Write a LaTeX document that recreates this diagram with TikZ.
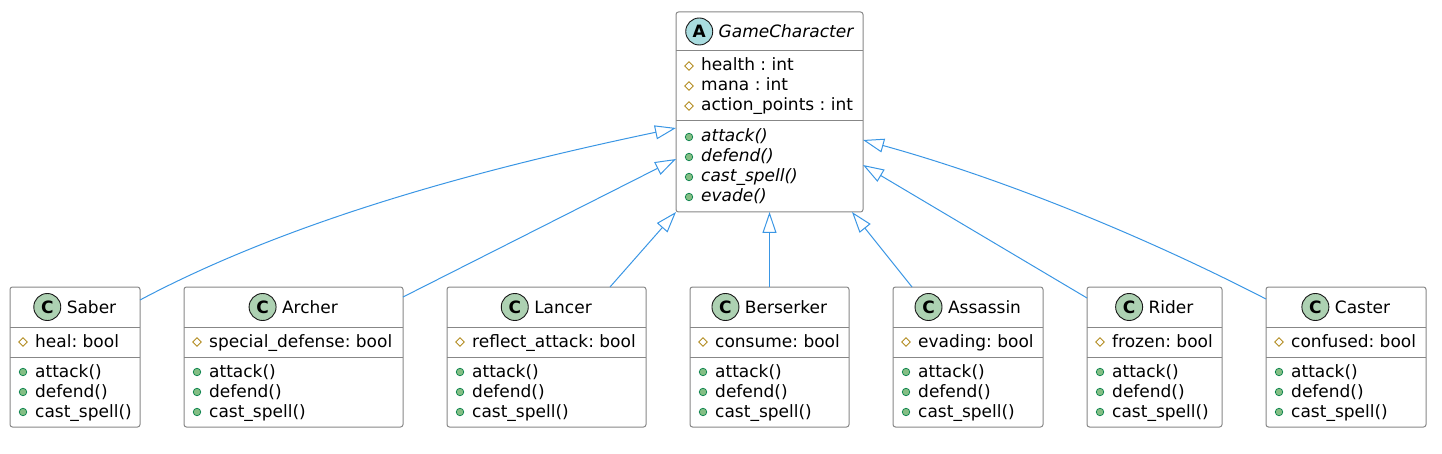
\documentclass[tikz,border=0pt]{standalone}
\usepackage{fontspec}
\setmainfont{DejaVu Sans}
\usetikzlibrary{positioning, arrows.meta, shapes.geometric}
\definecolor{linkBlue}{RGB}{58,150,228}
\definecolor{boxGray}{RGB}{135,135,135}
\definecolor{classFill}{HTML}{ADD1B2}
\definecolor{abstractFill}{HTML}{A9DCDF}
\definecolor{protGold}{HTML}{B38D22}
\definecolor{pubFill}{HTML}{84BE84}
\definecolor{pubLine}{HTML}{038048}
\frenchspacing

\begin{document}
\begin{tikzpicture}[
      x=1pt, y=-1pt,
      umlbox/.style={rectangle, draw=boxGray, line width=1pt, rounded corners=2.5pt, fill=white, inner sep=0pt, outer sep=0pt, anchor=north west},
      divider/.style={draw=boxGray, line width=1pt},
      title/.style={inner sep=0pt, outer sep=0pt, font=\fontsize{17}{20}\selectfont},
      icon/.style={circle, draw=black!90, line width=0.9pt, minimum size=27pt, inner sep=0pt, outer sep=0pt, font=\fontsize{17}{17}\selectfont\bfseries},
      member/.style={inner sep=0pt, anchor=base west, font=\fontsize{17}{20}\selectfont},
      prot/.style={diamond, aspect=1, draw=protGold, line width=0.9pt, minimum size=9pt, inner sep=0pt},
      pub/.style={circle, draw=pubLine, fill=pubFill, line width=0.7pt, minimum size=7.5pt, inner sep=0pt},
      inherit/.style={draw=linkBlue, line width=1pt, -{Triangle[open, length=21pt, width=14pt]}}
    ]
      \useasboundingbox (0,0) rectangle (1442,454);

      % abstract base class
      \node[umlbox, minimum width=187, minimum height=200] (gc) at (676,12) {};
      \draw[divider] ([yshift=-39pt]gc.north west) -- ([yshift=-39pt]gc.north east);
      \draw[divider] ([yshift=-109pt]gc.north west) -- ([yshift=-109pt]gc.north east);
      \node[title, font={\fontsize{17}{20}\selectfont\itshape}] (gc-t) at ([xshift=16.5pt, yshift=-19.5pt]gc.north) {GameCharacter};
      \node[icon, fill=abstractFill, left=6pt of gc-t] (gc-i) {A};
      \foreach \a/\dy in {health : int/54, mana : int/74, action\_points : int/94} {
        \node[prot] at ([xshift=13pt, yshift=-\dy pt]gc.north west) {};
        \node[member] at ([xshift=25pt, yshift=-\dy pt-5pt]gc.north west) {\a};
      }
      \foreach \m/\dy in {attack()/125, defend()/145, cast\_spell()/165, evade()/185} {
        \node[pub] at ([xshift=13pt, yshift=-\dy pt]gc.north west) {};
        \node[member, font={\fontsize{17}{20}\selectfont\itshape}] at ([xshift=25pt, yshift=-\dy pt-5pt]gc.north west) {\m};
      }

      % concrete subclasses
      \foreach \cls/\name/\xl/\w/\attr in {
          saber/Saber/10/130/heal: bool,
          archer/Archer/184/219/special\_defense: bool,
          lancer/Lancer/447/199/reflect\_attack: bool,
          berserker/Berserker/690/159/consume: bool,
          assassin/Assassin/893/150/evading: bool,
          rider/Rider/1087/135/frozen: bool,
          caster/Caster/1266/160/confused: bool} {
        \node[umlbox, minimum width=\w, minimum height=140] (\cls) at (\xl,287) {};
        \draw[divider] ([yshift=-40pt]\cls.north west) -- ([yshift=-40pt]\cls.north east);
        \draw[divider] ([yshift=-70pt]\cls.north west) -- ([yshift=-70pt]\cls.north east);
        \node[title] (\cls-t) at ([xshift=16.5pt, yshift=-20pt]\cls.north) {\name};
        \node[icon, fill=classFill, left=6pt of \cls-t] (\cls-i) {C};
        \node[prot] at ([xshift=13pt, yshift=-55pt]\cls.north west) {};
        \node[member] at ([xshift=25pt, yshift=-60pt]\cls.north west) {\attr};
        \foreach \m/\dy in {attack()/85, defend()/105, cast\_spell()/125} {
          \node[pub] at ([xshift=13pt, yshift=-\dy pt]\cls.north west) {};
          \node[member] at ([xshift=25pt, yshift=-\dy pt-5pt]\cls.north west) {\m};
        }
      }

      % generalisation arrows
      \draw[inherit] ([yshift=-13pt]saber.north east) .. controls +(160,-85) and +(-176,37) .. ([yshift=-116pt]gc.north west);
      \draw[inherit] ([yshift=-10pt]archer.north east) -- ([yshift=-147pt]gc.north west);
      \draw[inherit] ([xshift=-36pt]lancer.north east) -- (gc.south west);
      \draw[inherit] (berserker.north) -- (gc.south);
      \draw[inherit] ([xshift=19pt]assassin.north west) -- ([xshift=-11pt]gc.south east);
      \draw[inherit] ([yshift=-11pt]rider.north west) -- ([yshift=-153pt]gc.north east);
      \draw[inherit] ([yshift=-12pt]caster.north west) .. controls +(-136,-70) and +(127,35) .. ([yshift=-128pt]gc.north east);
    \end{tikzpicture}
\end{document}
